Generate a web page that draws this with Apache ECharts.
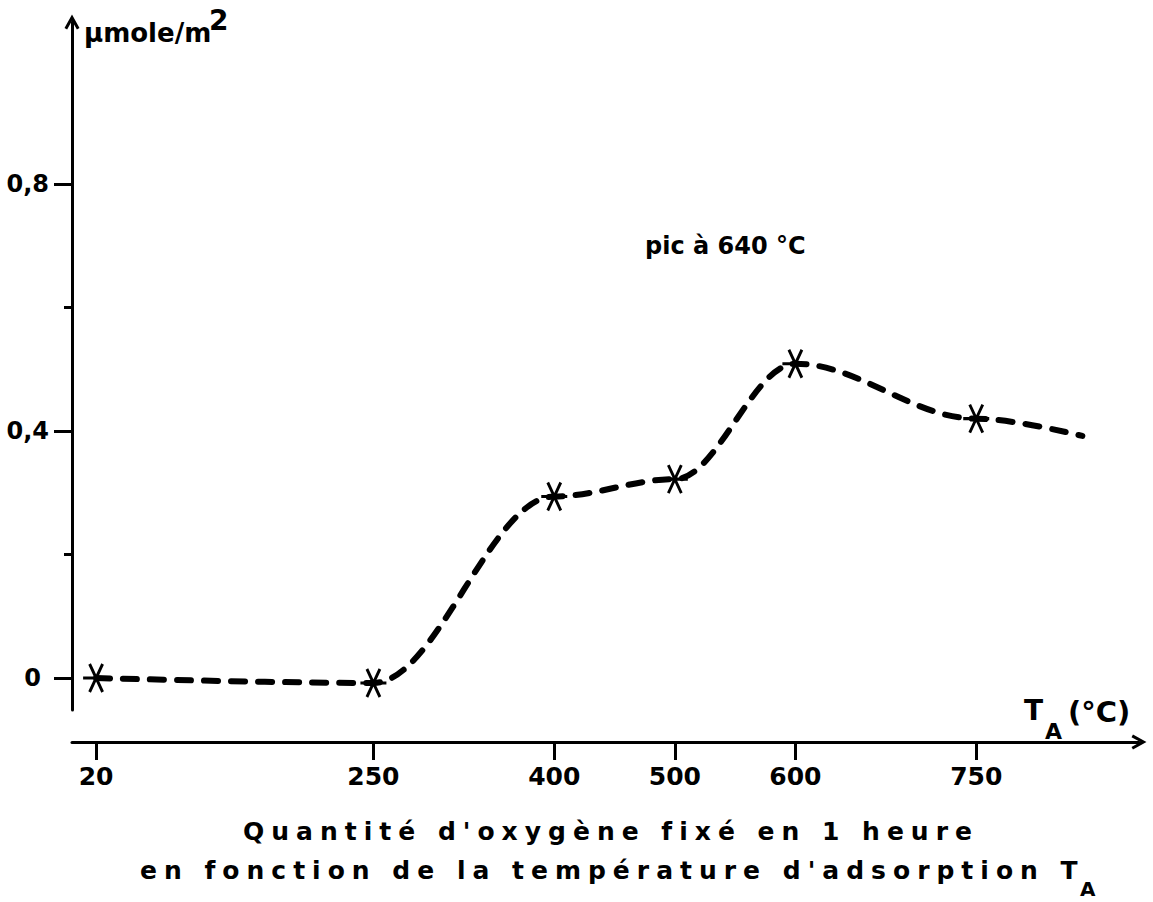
<!DOCTYPE html>
<html lang="fr">
<head>
<meta charset="utf-8">
<title>Quantité d'oxygène fixé en 1 heure</title>
<script src="https://cdn.jsdelivr.net/npm/echarts@6/dist/echarts.min.js"></script>
<style>
  html, body { margin: 0; padding: 0; background: #fff; }
  #chart { width: 1153px; height: 902px; }
  /* the caption is set with wide letter spacing */
  #chart text[style*="Verdana"],
  #chart text[font-family*="Verdana"] { letter-spacing: 7px; }
</style>
</head>
<body>
<div id="chart"></div>
<script>
// Adsorption temperature T_A (°C) and oxygen fixed in one hour (µmole/m²)
const temperatures = [20, 250, 400, 500, 600, 750];
const oxygenFixed = [0, -0.008, 0.294, 0.322, 0.509, 0.42];
// the drawn curve carries on past the last measurement
const tailTemperature = 838;
const tailOxygen = 0.392;

const xTickValues = [20, 250, 400, 500, 600, 750];
const yLabelValues = [0, 0.4, 0.8];
const yMinorValues = [0.2, 0.6];

const FONT = 'DejaVu Sans';
const CAPTION_FONT = "'DejaVu Sans', Verdana";

const measured = temperatures.map((t, i) => [t, oxygenFixed[i]]);
const curve = measured.concat([[tailTemperature, tailOxygen]]);

// open arrow head, pointing up in its own box
const arrowHead = 'path://M50,0 L100,90 L82.5,99.7 L50,41 L17.5,99.7 L0,90 Z';
// six-armed star marker
const starMarker = 'path://M0,50 L100,50 M25,4 L75,96 M75,4 L25,96';

const yMin = -0.0518, yMax = 1.0623;

function label(text, x, y, size, extra) {
  return {
    type: 'text', x: x, y: y, silent: true,
    style: Object.assign({
      text: text, fill: '#000', fontFamily: FONT, fontWeight: 'bold', fontSize: size,
      align: 'left', textAlign: 'left', verticalAlign: 'middle', textVerticalAlign: 'middle'
    }, extra || {})
  };
}

const chart = echarts.init(document.getElementById('chart'), null, { renderer: 'svg' });

chart.setOption({
  animation: false,
  backgroundColor: '#fff',
  grid: { left: 72, right: 14, top: 22, bottom: 192, containLabel: false },
  xAxis: {
    type: 'value',
    min: 0,
    max: 885,
    position: 'bottom',
    offset: 32,
    axisLine: {
      show: true,
      onZero: false,
      symbol: ['none', arrowHead],
      symbolSize: [15, 15],
      lineStyle: { color: '#000', width: 3 }
    },
    axisTick: {
      show: true,
      customValues: xTickValues,
      length: 18,
      lineStyle: { color: '#000', width: 3 }
    },
    axisLabel: {
      show: true,
      customValues: xTickValues,
      margin: 22,
      color: '#000',
      fontFamily: FONT,
      fontWeight: 'bold',
      fontSize: 25
    },
    splitLine: { show: false }
  },
  yAxis: [
    {
      type: 'value',
      min: yMin,
      max: yMax,
      axisLine: {
        show: true,
        onZero: false,
        symbol: ['none', arrowHead],
        symbolSize: [15, 15],
        lineStyle: { color: '#000', width: 3 }
      },
      axisTick: {
        show: true,
        customValues: yLabelValues,
        length: 18,
        lineStyle: { color: '#000', width: 3 }
      },
      axisLabel: {
        show: true,
        customValues: yLabelValues,
        margin: 23,
        color: '#000',
        fontFamily: FONT,
        fontWeight: 'bold',
        fontSize: 24,
        formatter: v => v === 0 ? '{z|0}' : String(v).replace('.', ','),
        rich: {
          z: { fontFamily: FONT, fontWeight: 'bold', fontSize: 24, color: '#000', padding: [0, 8, 0, 0] }
        }
      },
      splitLine: { show: false }
    },
    {
      type: 'value',
      min: yMin,
      max: yMax,
      position: 'left',
      offset: 0,
      axisLine: { show: false, onZero: false },
      axisTick: {
        show: true,
        customValues: yMinorValues,
        length: 8,
        lineStyle: { color: '#000', width: 3 }
      },
      axisLabel: { show: false },
      splitLine: { show: false }
    }
  ],
  series: [
    {
      type: 'line',
      data: curve,
      smooth: 0.35,
      smoothMonotone: 'x',
      showSymbol: false,
      silent: true,
      lineStyle: { color: '#000', width: 6, type: [14, 13], cap: 'round' },
      z: 2
    },
    {
      type: 'scatter',
      data: measured,
      symbol: starMarker,
      symbolSize: [26, 28],
      silent: true,
      itemStyle: { color: 'rgba(0,0,0,0)', borderColor: '#000', borderWidth: 3, opacity: 1 },
      z: 3
    }
  ],
  graphic: [
    // unit of the vertical axis
    label('μmole/m', 84, 33, 26),
    label('2', 209, 20, 28, { lineHeight: 26 }),
    // annotation of the maximum
    label('pic à 640 °C', 645, 246, 24),
    // name of the horizontal axis
    label('T', 1024, 710, 28, { lineHeight: 22 }),
    label('A', 1045, 731, 22, { lineHeight: 16 }),
    label('(°C)', 1068, 712, 29),
    // caption
    label("Quantité d'oxygène fixé en 1 heure", 611, 831, 25,
          { fontFamily: CAPTION_FONT, align: 'center', textAlign: 'center' }),
    label("en fonction de la température d'adsorption T", 140, 870, 25,
          { fontFamily: CAPTION_FONT, lineHeight: 20 }),
    label('A', 1080, 889, 20, { lineHeight: 14 })
  ]
});
</script>
</body>
</html>
